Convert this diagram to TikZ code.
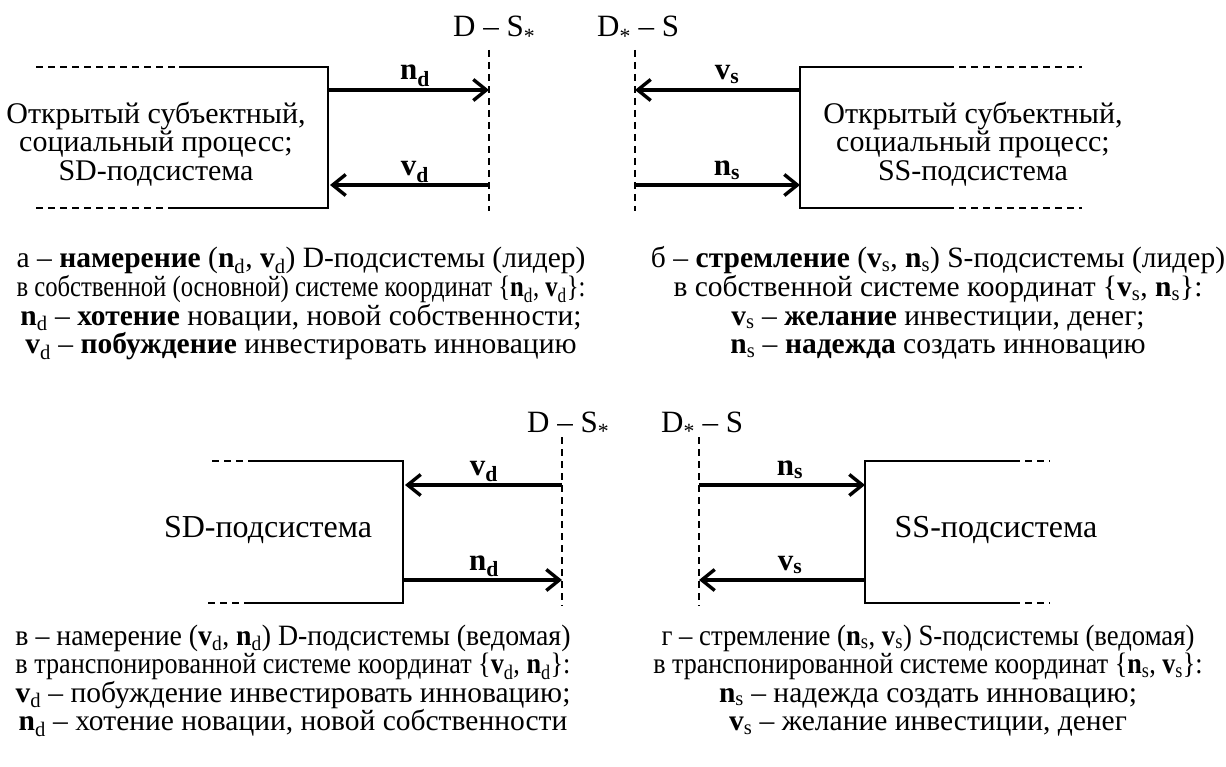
\documentclass[tikz,border=0pt]{standalone}
\usepackage{fontspec}
\setmainfont{Liberation Serif}
\usepackage{graphicx}
\usetikzlibrary{arrows.meta}
\newcommand\capfont{\fontsize{29.5}{28.5}\selectfont}
\newcommand\boxfont{\fontsize{30}{28.5}\selectfont}
\newcommand\bboxfont{\fontsize{32}{30}\selectfont}
\newcommand\lblfont{\fontsize{31}{31}\selectfont}
\newcommand\vb[2]{\textbf{#1}\textsubscript{#2}}
\newcommand\vbb[2]{\textbf{#1\textsubscript{#2}}}
\newcommand\st{\textsubscript{\raisebox{-0.15em}{*}}}
\newlength\wA
\newlength\wV
\begin{document}
\settowidth{\wA}{\capfont а – \textbf{намерение} (\vb{n}{d}, \vb{v}{d}) D-подсистемы (лидер)}%
\settowidth{\wV}{\capfont \vb{v}{d} – побуждение инвестировать инновацию;}%
\begin{tikzpicture}[x=1pt,y=-1pt,
  lbl/.style={font=\lblfont, inner sep=0pt, anchor=base west},
  vlbl/.style={font=\lblfont, inner sep=0pt, anchor=base},
  boxtxt/.style={font=\boxfont, align=center, inner sep=0pt},
  bboxtxt/.style={font=\bboxfont, align=center, inner sep=0pt},
  captxt/.style={font=\capfont, inner sep=0pt, anchor=base},
  sysline/.style={line width=1.6pt},
  dashline/.style={line width=1.4pt, dash pattern=on 7pt off 5pt},
  flow/.style={line width=3.4pt, -{Straight Barb[length=13pt,width=21pt]}}]
\fill[white] (0,0) rectangle (1226,767);
\useasboundingbox (0,0) rectangle (1226,767);

% ---------- panel a ----------
\coordinate (aT0) at (36,67);  \coordinate (aT1) at (179,67);
\coordinate (aC1) at (328,67); \coordinate (aC2) at (328,208);
\coordinate (aB1) at (175,208); \coordinate (aB0) at (36,208);
\draw[dashline] (aT0) -- (aT1);
\draw[dashline] (aB0) -- (aB1);
\draw[sysline] (aT1) -- (aC1) -- (aC2) -- (aB1);
\coordinate (aDt) at (489,50); \coordinate (aDb) at (489,211);
\draw[dashline] (aDt) -- (aDb);
\coordinate (aN0) at (328,90); \coordinate (aN1) at (489,90);
\coordinate (aV0) at (489,185); \coordinate (aV1) at (330,185);
\draw[flow] (aN0) -- (aN1);
\draw[flow] (aV0) -- (aV1);
\node[vlbl] (anl) at (415,80) {\vbb{n}{d}};
\node[vlbl] (avl) at (415,176) {\vbb{v}{d}};
\node[lbl] (aDS) at (453,37) {D – S\st};
\node[boxtxt] (atx) at (156,144) {Открытый субъектный,\\социальный процесс;\\SD-подсистема};

% ---------- panel b ----------
\coordinate (bC1) at (800,67); \coordinate (bC2) at (800,208);
\coordinate (bT1) at (947,67); \coordinate (bT2) at (1082,67);
\coordinate (bB1) at (947,208); \coordinate (bB2) at (1082,208);
\draw[sysline] (bT1) -- (bC1) -- (bC2) -- (bB1);
\draw[dashline] (bT1) -- (bT2);
\draw[dashline] (bB1) -- (bB2);
\coordinate (bDt) at (635,50); \coordinate (bDb) at (635,211);
\draw[dashline] (bDt) -- (bDb);
\coordinate (bV0) at (800,90); \coordinate (bV1) at (635,90);
\coordinate (bN0) at (635,185); \coordinate (bN1) at (800,185);
\draw[flow] (bV0) -- (bV1);
\draw[flow] (bN0) -- (bN1);
\node[vlbl] (bvl) at (727,80) {\vbb{v}{s}};
\node[vlbl] (bnl) at (727,176) {\vbb{n}{s}};
\node[lbl] (bDS) at (597,37) {D\st{} – S};
\node[boxtxt] (btx) at (973,144) {Открытый субъектный,\\социальный процесс;\\SS-подсистема};

% ---------- captions a, b ----------
\node[captxt] (a1) at (301,268) {а – \textbf{намерение} (\vb{n}{d}, \vb{v}{d}) D-подсистемы (лидер)};
\node[captxt] (a2) at (301,296.5) {\resizebox{\wA}{\height}{в собственной (основной) системе координат \{\vb{n}{d}, \vb{v}{d}\}:}};
\node[captxt] (a3) at (301,325) {\vb{n}{d} – \textbf{хотение} новации, новой собственности;};
\node[captxt] (a4) at (301,353.5) {\vb{v}{d} – \textbf{побуждение} инвестировать инновацию};

\node[captxt] (b1) at (938,268) {б – \textbf{стремление} (\vb{v}{s}, \vb{n}{s}) S-подсистемы (лидер)};
\node[captxt] (b2) at (938,296.5) {в собственной системе координат \{\vb{v}{s}, \vb{n}{s}\}:};
\node[captxt] (b3) at (938,325) {\vb{v}{s} – \textbf{желание} инвестиции, денег;};
\node[captxt] (b4) at (938,353.5) {\vb{n}{s} – \textbf{надежда} создать инновацию};

% ---------- panel c ----------
\coordinate (cT0) at (212,461); \coordinate (cT1) at (254,461);
\coordinate (cC1) at (403,461); \coordinate (cC2) at (403,603);
\coordinate (cB1) at (250,603); \coordinate (cB0) at (208,603);
\draw[dashline] (cT0) -- (cT1);
\draw[dashline] (cB0) -- (cB1);
\draw[sysline] (cT1) -- (cC1) -- (cC2) -- (cB1);
\coordinate (cDt) at (562,437); \coordinate (cDb) at (562,606);
\draw[dashline] (cDt) -- (cDb);
\coordinate (cV0) at (562,485); \coordinate (cV1) at (405,485);
\coordinate (cN0) at (403,580); \coordinate (cN1) at (562,580);
\draw[flow] (cV0) -- (cV1);
\draw[flow] (cN0) -- (cN1);
\node[vlbl] (cvl) at (484,475) {\vbb{v}{d}};
\node[vlbl] (cnl) at (484,570) {\vbb{n}{d}};
\node[lbl] (cDS) at (527,432) {D – S\st};
\node[bboxtxt] (ctx) at (268,530) {SD-подсистема};

% ---------- panel d ----------
\coordinate (dC1) at (865,461); \coordinate (dC2) at (865,603);
\coordinate (dT1) at (1013,461); \coordinate (dT2) at (1050,461);
\coordinate (dB1) at (1013,603); \coordinate (dB2) at (1050,603);
\draw[sysline] (dT1) -- (dC1) -- (dC2) -- (dB1);
\draw[dashline] (dT1) -- (dT2);
\draw[dashline] (dB1) -- (dB2);
\coordinate (dDt) at (699,437); \coordinate (dDb) at (699,606);
\draw[dashline] (dDt) -- (dDb);
\coordinate (dN0) at (699,485); \coordinate (dN1) at (865,485);
\coordinate (dV0) at (865,580); \coordinate (dV1) at (699,580);
\draw[flow] (dN0) -- (dN1);
\draw[flow] (dV0) -- (dV1);
\node[vlbl] (dnl) at (790,475) {\vbb{n}{s}};
\node[vlbl] (dvl) at (790,570) {\vbb{v}{s}};
\node[lbl] (dDS) at (661,432) {D\st{} – S};
\node[bboxtxt] (dtx) at (996,530) {SS-подсистема};

% ---------- captions c, d ----------
\node[captxt] (c1) at (293,645) {\resizebox{\wV}{\height}{в – намерение (\vb{v}{d}, \vb{n}{d}) D-подсистемы (ведомая)}};
\node[captxt] (c2) at (293,673.5) {\resizebox{\wV}{\height}{в транспонированной системе координат \{\vb{v}{d}, \vb{n}{d}\}:}};
\node[captxt] (c3) at (293,702) {\vb{v}{d} – побуждение инвестировать инновацию;};
\node[captxt] (c4) at (293,730.5) {\vb{n}{d} – хотение новации, новой собственности};

\node[captxt] (d1) at (928,645) {\resizebox{0.96\wV}{\height}{г – стремление (\vb{n}{s}, \vb{v}{s}) S-подсистемы (ведомая)}};
\node[captxt] (d2) at (928,673.5) {\resizebox{0.99\wV}{\height}{в транспонированной системе координат \{\vb{n}{s}, \vb{v}{s}\}:}};
\node[captxt] (d3) at (928,702) {\vb{n}{s} – надежда создать инновацию;};
\node[captxt] (d4) at (928,730.5) {\vb{v}{s} – желание инвестиции, денег};
\end{tikzpicture}
\end{document}
